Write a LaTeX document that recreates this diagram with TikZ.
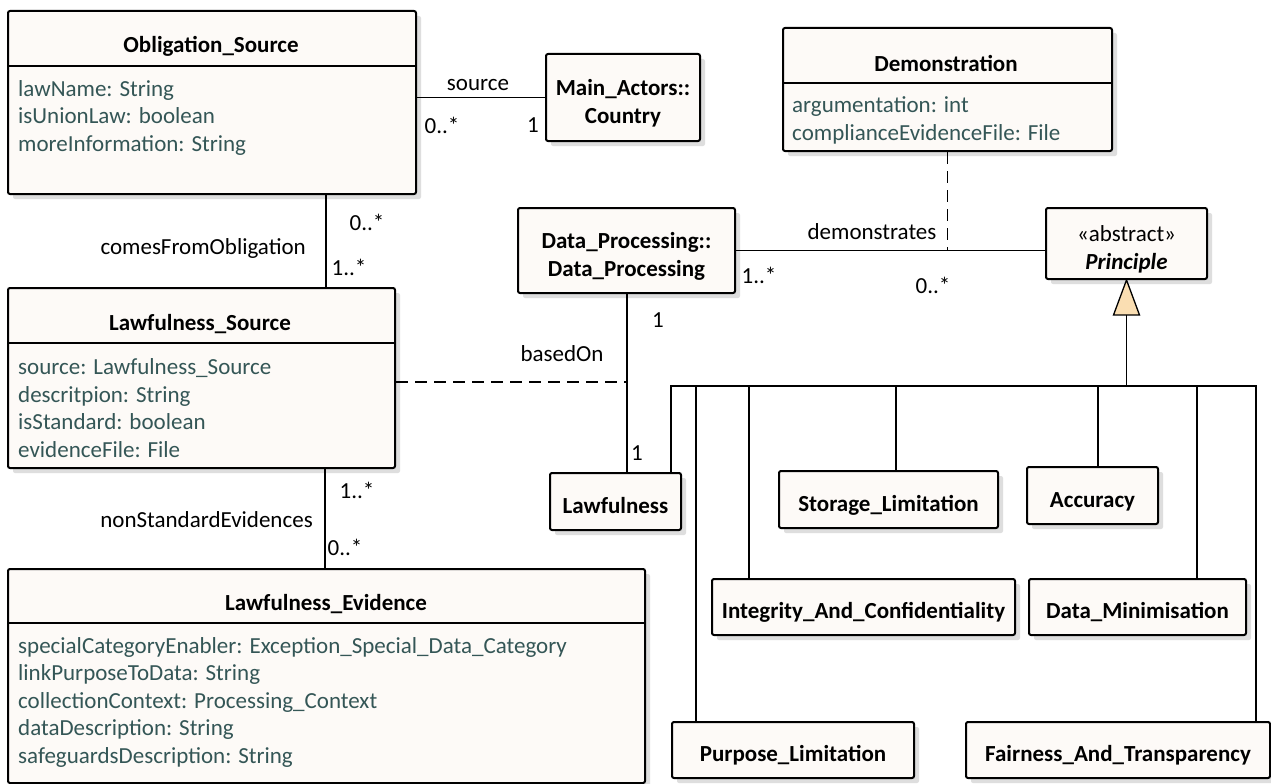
\documentclass[tikz,border=0pt]{standalone}
\usepackage{fontspec}
\setmainfont{Carlito}
\usepackage{tikz}
\usetikzlibrary{positioning,shadows}
\definecolor{boxfill}{RGB}{253,250,247}
\definecolor{attrtext}{RGB}{52,86,86}
\definecolor{genfill}{RGB}{250,222,178}
\newcommand{\umlfont}{\fontsize{23}{27.5}\selectfont}

\begin{document}
\begin{tikzpicture}[x=1pt,y=-1pt]
	\tikzstyle{block} = [draw, line width=2pt, rounded corners=2pt, fill=boxfill, inner sep=0pt, align=center, font=\umlfont\bfseries, drop shadow={shadow xshift=5pt, shadow yshift=-5pt, fill=black!13, opacity=1}]
	\tikzstyle{leaf} = [block, text height=23pt, text depth=0pt]
	\tikzstyle{twoline} = [block, text height=51pt, text depth=0pt]
	\tikzstyle{title} = [inner sep=0pt, font=\umlfont\bfseries]
	\tikzstyle{attr} = [inner sep=0pt, anchor=base west, align=left, text=attrtext, font=\umlfont]
	\tikzstyle{lbl} = [inner sep=0pt, font=\umlfont]
	\tikzstyle{assoc} = [line width=1.3pt]
	\tikzstyle{assocdash} = [line width=1.3pt, dash pattern=on 12pt off 7pt]

	\useasboundingbox[fill=white] (0,0) rectangle (1271,784);

	% classes with attributes (attr nodes sit on their last baseline)
	\node [block, anchor=north west, minimum width=408pt, minimum height=183pt] (oblig) at (7,10) {};
	\node [title] (obligT) at (211,46) {Obligation\_Source};
	\draw [assoc] (oblig.west |- 0,66) -- (oblig.east |- 0,66);
	\node [attr] (obligA) at (18,151) {lawName: String\\isUnionLaw: boolean\\moreInformation: String};

	\node [block, anchor=north west, minimum width=329pt, minimum height=123pt] (demo) at (782,27) {};
	\node [title] (demoT) at (946,63) {Demonstration};
	\draw [assoc] (demo.west |- 0,83) -- (demo.east |- 0,83);
	\node [attr] (demoA) at (792,140) {argumentation: int\\complianceEvidenceFile: File};

	\node [block, anchor=north west, minimum width=387pt, minimum height=180pt] (lsrc) at (7,287) {};
	\node [title] (lsrcT) at (200,324) {Lawfulness\_Source};
	\draw [assoc] (lsrc.west |- 0,343) -- (lsrc.east |- 0,343);
	\node [attr] (lsrcA) at (18,457) {source: Lawfulness\_Source\\descritpion: String\\isStandard: boolean\\evidenceFile: File};

	\node [block, anchor=north west, minimum width=637pt, minimum height=214pt] (levid) at (7,568) {};
	\node [title] (levidT) at (326,604) {Lawfulness\_Evidence};
	\draw [assoc] (levid.west |- 0,623) -- (levid.east |- 0,623);
	\node [attr] (levidA) at (18,763) {specialCategoryEnabler: Exception\_Special\_Data\_Category\\linkPurposeToData: String\\collectionContext: Processing\_Context\\dataDescription: String\\safeguardsDescription: String};

	% plain classes
	\node [twoline, anchor=north west, minimum width=154pt, minimum height=87pt] (country) at (545,53) {Main\_Actors::\\Country};
	\node [twoline, anchor=north west, minimum width=217pt, minimum height=85pt] (dproc) at (517,207) {Data\_Processing::\\Data\_Processing};
	\node [twoline, anchor=north west, minimum width=161pt, minimum height=71pt] (princ) at (1045,207) {{\mdseries «abstract»}\\\textit{Principle}};

	% principles
	\node [leaf, anchor=north west, minimum width=131pt, minimum height=57pt] (lawf) at (549,472) {Lawfulness};
	\node [leaf, anchor=north west, minimum width=219pt, minimum height=57pt] (stor) at (778,470) {Storage\_Limitation};
	\node [leaf, minimum width=131pt, minimum height=57pt, right = 27pt of stor, yshift=4pt] (accur) {Accuracy};
	\node [leaf, anchor=north west, minimum width=303pt, minimum height=56pt] (integ) at (711,578) {Integrity\_And\_Confidentiality};
	\node [leaf, minimum width=217pt, minimum height=56pt, right = 12pt of integ] (datamin) {Data\_Minimisation};
	\node [leaf, anchor=north west, minimum width=242pt, minimum height=56pt] (purp) at (671,721) {Purpose\_Limitation};
	\node [leaf, minimum width=304pt, minimum height=56pt, right = 50pt of purp] (fair) {Fairness\_And\_Transparency};

	% associations
	\draw [assoc] (oblig.east |- country.west) -- (country.west);
	\node [lbl] (srcL) at (478,85) {source};
	\node [lbl] (srcM1) at (442,125) {0..*};
	\node [lbl] (srcM2) at (533,125) {1};

	\draw [assoc] (oblig.south -| 326,0) -- (lsrc.north -| 326,0);
	\node [lbl] (cfoM1) at (367,222) {0..*};
	\node [lbl, anchor=east] (cfoL) at (306,248) {comesFromObligation};
	\node [lbl] (cfoM2) at (349,267) {1..*};

	\draw [assoc] (lsrc.south -| 325,0) -- (levid.north -| 325,0);
	\node [lbl] (nseM1) at (357,490) {1..*};
	\node [lbl, anchor=east] (nseL) at (313,520) {nonStandardEvidences};
	\node [lbl] (nseM2) at (345,547) {0..*};

	\draw [assoc] (dproc.east) -- (dproc.east -| princ.west);
	\draw [assocdash] (demo.south) -- (demo.south |- dproc.east);
	\node [lbl] (demL) at (872,232) {demonstrates};
	\node [lbl] (demM1) at (759,275) {1..*};
	\node [lbl] (demM2) at (933,285) {0..*};

	\coordinate (bo) at (627,382);
	\draw [assoc] (dproc.south -| bo) -- (lawf.north -| bo);
	\draw [assocdash] (lsrc.east |- bo) -- (bo);
	\node [lbl] (boM1) at (658,320) {1};
	\node [lbl] (boL) at (562,354) {basedOn};
	\node [lbl] (boM2) at (637,453) {1};

	% generalization
	\coordinate (gbar) at (princ.south |- 0,386);
	\draw [assoc, fill=genfill] (princ.south) -- ++(-13,35) -- ++(26,0) -- cycle;
	\draw [assoc] (princ.south) ++(0,35) -- (gbar);
	\draw [assoc] (lawf.north -| 671,0) |- (gbar) -| (fair.north -| 1256,0);
	\draw [assoc] (purp.north -| 696,0) -- (gbar -| 696,0);
	\draw [assoc] (integ.north -| 749,0) -- (gbar -| 749,0);
	\draw [assoc] (stor.north -| 896,0) -- (gbar -| 896,0);
	\draw [assoc] (accur.north -| 1098,0) -- (gbar -| 1098,0);
	\draw [assoc] (datamin.north -| 1197,0) -- (gbar -| 1197,0);
\end{tikzpicture}
\end{document}
